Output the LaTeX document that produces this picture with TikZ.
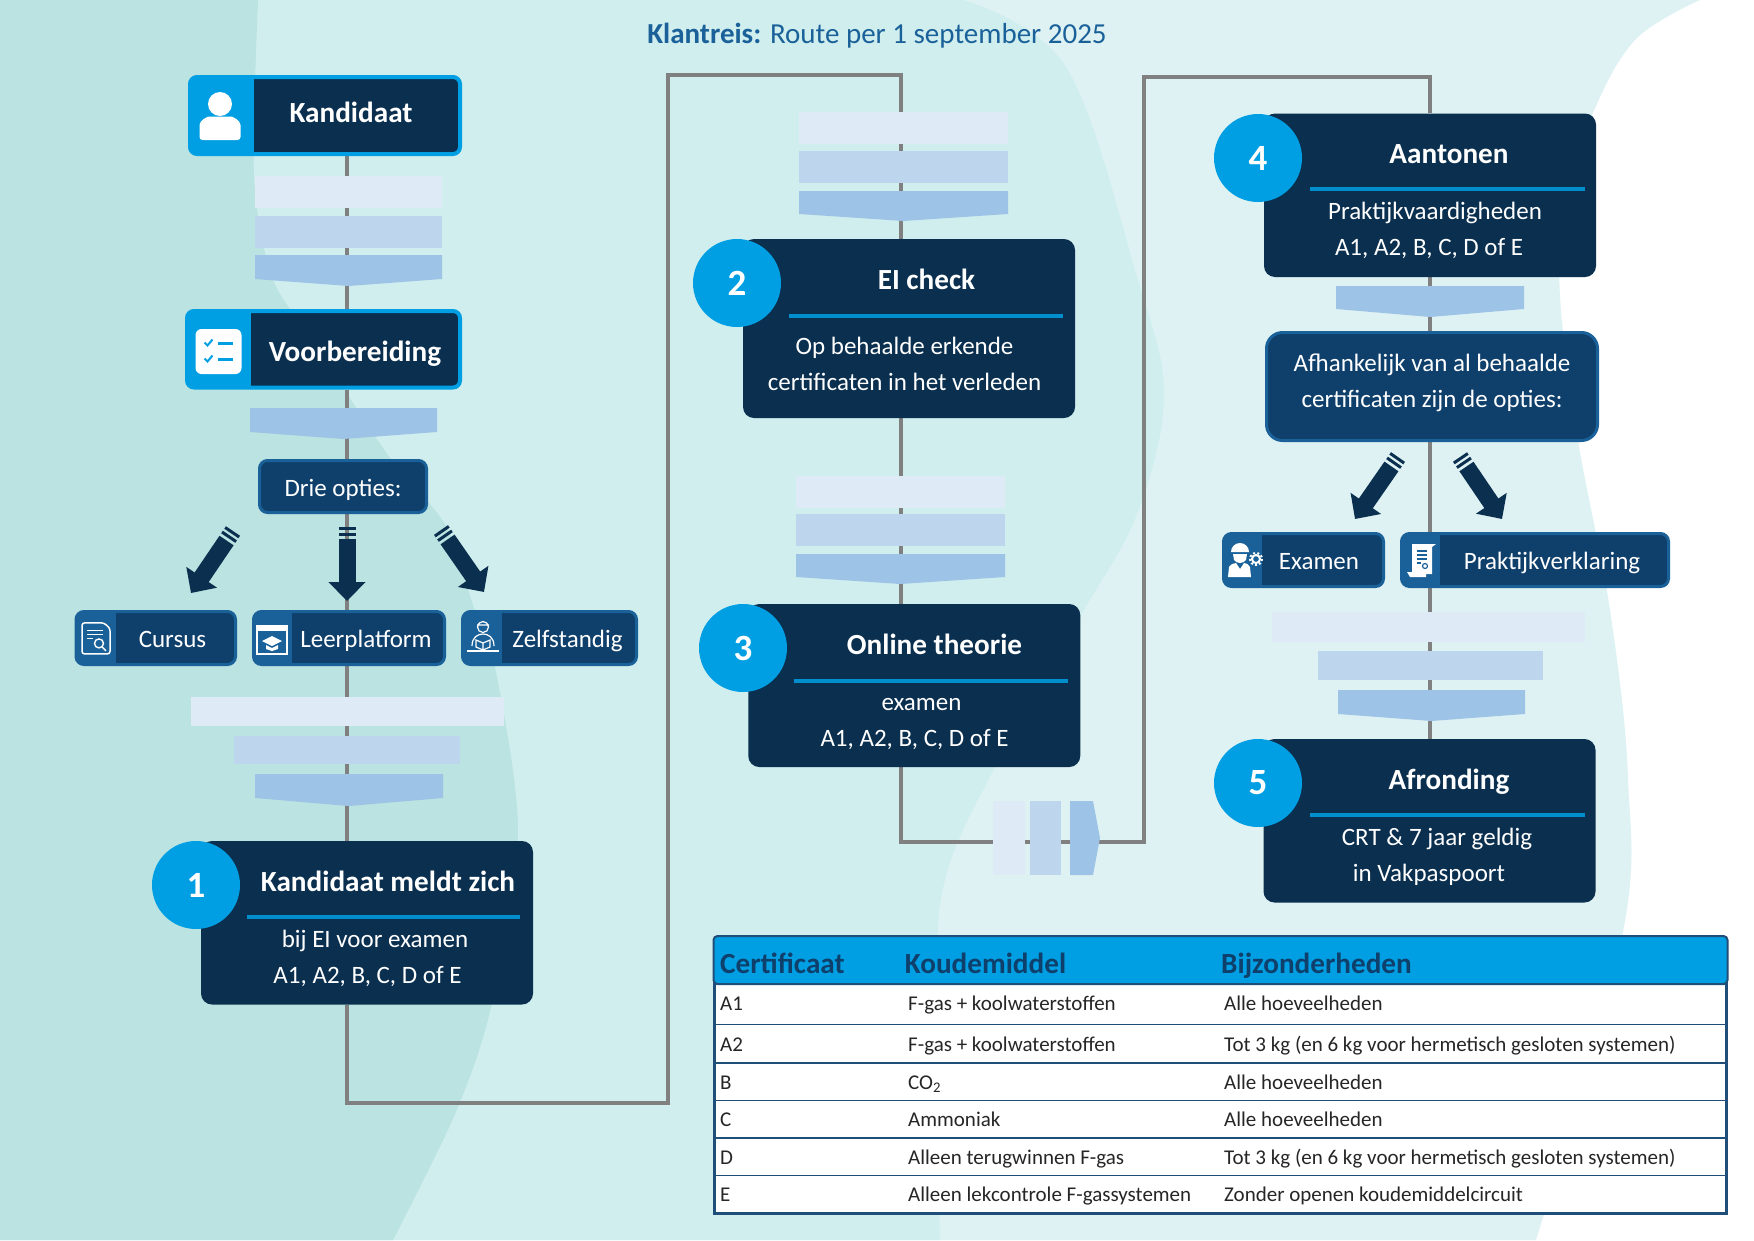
\documentclass[tikz,border=0pt]{standalone}
\usepackage{fontspec}
\setmainfont{Carlito}
\usetikzlibrary{arrows.meta,backgrounds}

\definecolor{bgleft}{HTML}{BAE3E1}
\definecolor{bgmid}{HTML}{D0EEEE}
\definecolor{bgpale}{HTML}{DFF2F3}
\definecolor{navy}{HTML}{0A2F4F}
\definecolor{optfill}{HTML}{0F3F6B}
\definecolor{optedge}{HTML}{1A6199}
\definecolor{skyblue}{HTML}{009FE3}
\definecolor{chevlight}{HTML}{DEEAF6}
\definecolor{chevmid}{HTML}{BDD6EE}
\definecolor{chevdark}{HTML}{9DC3E6}
\definecolor{tableedge}{HTML}{1F4E79}

\tikzset{
  route/.style={draw=black!50,line width=3.5pt},
  optarrow/.style={draw=navy,line width=17pt,dash pattern=on 3pt off 2.5pt on 3pt off 3pt on 300pt,-{Triangle[width=36pt,length=19pt]}},
  headbox/.style={draw=skyblue,fill=skyblue,line width=4pt,rounded corners=7pt,inner sep=0pt,
    path picture={\fill[navy,sharp corners] ([xshift=#1]path picture bounding box.south west) rectangle (path picture bounding box.north east);}},
  optbox/.style={draw=optedge,fill=optedge,line width=3pt,rounded corners=8pt,minimum height=53pt,inner sep=0pt,
    path picture={\fill[optfill,sharp corners] ([xshift=#1]path picture bounding box.south west) rectangle (path picture bounding box.north east);}},
  choicebox/.style={draw=optedge,fill=optfill,line width=3pt,inner sep=0pt},
  stepbox/.style={fill=navy,rounded corners=11pt,minimum width=332pt,inner sep=0pt},
  stepnum/.style={circle,fill=skyblue,minimum size=88pt,inner sep=0pt,text=white,font=\fontsize{37}{37}\selectfont\bfseries},
  steprule/.style={draw=skyblue!90!black,line width=4pt},
  headtxt/.style={text=white,inner sep=0pt,text height=20pt,text depth=6pt,font=\fontsize{29.2}{29.2}\selectfont\bfseries},
  bodytxt/.style={text=white,inner sep=0pt,text height=16pt,text depth=6pt,font=\fontsize{25}{25}\selectfont},
  tabhead/.style={text=optfill,anchor=west,inner sep=0pt,text height=20pt,text depth=6pt,font=\fontsize{29.2}{29.2}\selectfont\bfseries},
  tabtxt/.style={text=black!85,anchor=west,inner sep=0pt,text height=14pt,text depth=5pt,font=\fontsize{21}{21}\selectfont},
  personicon/.pic={
    \fill[white] (0,-18) circle [radius=12];
    \fill[white,rounded corners=3pt] (-20.5,18) -- (-20.5,6) .. controls (-20.5,-2) and (-12,-5.5) .. (-8,-5.5) -- (8,-5.5) .. controls (12,-5.5) and (20.5,-2) .. (20.5,6) -- (20.5,18) -- cycle;
  },
  checkicon/.pic={
    \fill[white,rounded corners=6pt] (-23,-22.5) rectangle (23,22.5);
    \draw[skyblue,line width=2pt] (-14,-9) -- (-11,-6) -- (-6,-12) (-14,7) -- (-11,10) -- (-6,4);
    \draw[skyblue,line width=2.6pt] (-1,-8) -- (14,-8) (-1,8) -- (14,8);
  },
  docicon/.pic={
    \draw[white,line width=1.5pt,rounded corners=2.5pt] (-14,-15.5) -- (8,-15.5) -- (14,-10) -- (14,15.5) -- (-14,15.5) -- cycle;
    \draw[white,line width=1.4pt] (-9,-8) -- (7,-8) (-9,-4) -- (7,-4) (-9,0) -- (-3,0);
    \draw[white,line width=1.4pt] (3,5) circle [radius=4.5] (6,8.5) -- (10,12.5);
  },
  browsericon/.pic={
    \draw[white,line width=1.5pt] (-15,-14) rectangle (15,14);
    \fill[white] (-15,-14) rectangle (15,-9);
    \fill[white] (-10,1) -- (0,-4) -- (10,1) -- (0,6) -- cycle;
    \fill[white] (-6,5) -- (0,8) -- (6,5) -- (6,9) -- (0,11) -- (-6,9) -- cycle;
  },
  readericon/.pic={
    \draw[white,line width=1.2pt] (0,-10) circle [radius=5.5] (-6,-12) -- (6,-12);
    \draw[white,line width=1.2pt] (-11,9) .. controls (-11,0) and (-5,-3) .. (0,-3) .. controls (5,-3) and (11,0) .. (11,9);
    \draw[white,line width=1.2pt] (-7,3) -- (0,6) -- (7,3) -- (7,10) -- (0,13) -- (-7,10) -- cycle (0,6) -- (0,13);
    \draw[white,line width=1.4pt] (-16,14) -- (16,14);
  },
  workericon/.pic={
    \fill[white] (-14,-8) arc [start angle=180,end angle=360,radius=9] -- cycle;
    \fill[white] (-12,-6) -- (2,-6) -- (1,0) .. controls (-2,4) and (-8,4) .. (-11,0) -- cycle;
    \fill[white] (-17,17) -- (-16,7) .. controls (-14,4) and (-11,3) .. (-9,3) -- (-5,9) -- (-1,3) .. controls (1,3) and (4,4) .. (5,7) -- (6,17) -- cycle;
    \draw[white,line width=2pt] (11,-1) circle [radius=4];
    \draw[white,line width=2pt,dash pattern=on 2pt off 2.2pt] (11,-1) circle [radius=6];
  },
  scrollicon/.pic={
    \fill[white] (-10,-16) -- (14,-16) -- (10,-13) -- (10,14) -- (-10,14) -- cycle;
    \fill[white] (-15,12) -- (4,12) -- (4,17) -- (-12,17) -- cycle;
    \draw[optedge,line width=1.6pt] (-5,-9) -- (5,-9) (-5,-5) -- (5,-5) (-5,-1) -- (5,-1) (-5,3) -- (-1,3);
    \draw[optedge,line width=1.2pt] (3,6) circle [radius=2.5];
  }
}

\begin{document}
\begin{tikzpicture}[x=1pt,y=-1pt]
\useasboundingbox (0,0) rectangle (1754,1240);

% background
\begin{scope}[on background layer]
\fill[white] (0,0) rectangle (1754,1240);
\fill[bgpale] (0,0) -- plot[smooth,tension=.6] coordinates {(1700,0) (1635,40) (1592,115) (1565,200) (1560,296) (1578,440) (1610,610) (1628,778) (1622,937) (1536,1240)} -- (0,1240) -- cycle;
\fill[bgmid] (0,0) -- plot[smooth,tension=.6] coordinates {(963,0) (1066,67) (1137,277) (1164,395) (1137,514) (1080,617) (995,767) (945,880) (937,1000) (940,1240)} -- (0,1240) -- cycle;
\fill[bgleft] (0,0) -- plot[smooth,tension=.5] coordinates {(258,0) (254,176) (272,277) (312,340) (388,455) (446,526) (473,605) (495,667) (518,833) (491,1007) (455,1114) (393,1240)} -- (0,1240) -- cycle;
\end{scope}

\node[text=optedge,inner sep=0pt,font=\fontsize{29}{29}\selectfont] (title) at (877,36) {\textbf{Klantreis:} Route per 1 september 2025};

% turning points of the route
\coordinate (xa) at (347,0);
\coordinate (xb) at (901,0);
\coordinate (xc) at (1430,0);
\coordinate (turna) at (347,1103);
\coordinate (turnb) at (668,1103);
\coordinate (turnc) at (668,75);
\coordinate (turnd) at (901,75);
\coordinate (turne) at (901,842);
\coordinate (turnf) at (1144,842);
\coordinate (turng) at (1144,77);
\coordinate (turnh) at (1430,77);

% first column
\node[headbox=64pt,minimum width=270pt,minimum height=77pt] (kand) at (325,115.5) {};
\pic at (220,122) {personicon};
\node[headtxt] (kandtxt) at (351,115.5) {Kandidaat};

\node[headbox=64pt,minimum width=273pt,minimum height=76.5pt] (voorb) at (323.5,349.25) {};
\pic at (218.5,351.5) {checkicon};
\node[headtxt] (voorbtxt) at (355,354.5) {Voorbereiding};

\node[choicebox,rounded corners=8pt,minimum width=167pt,minimum height=52pt] (drie) at (343,486.5) {};
\node[bodytxt] (drietxt) at (343,491) {Drie opties:};

\node[optbox=39.5pt,minimum width=159.5pt] (cursus) at (155.75,638) {};
\pic at (96,638.4) {docicon};
\node[bodytxt] (cursustxt) at (172.5,642) {Cursus};
\node[optbox=38.5pt,minimum width=191pt] (leer) at (349,638) {};
\pic at (272,640) {browsericon};
\node[bodytxt] (leertxt) at (366,642) {Leerplatform};
\node[optbox=39.5pt,minimum width=174pt] (zelf) at (549.5,638) {};
\pic at (483,637) {readericon};
\node[bodytxt] (zelftxt) at (567.5,642) {Zelfstandig};

\node[stepbox,minimum height=163.5pt] (stepa) at (367,922.75) {};
\node[stepnum] (numa) at (196,885) {1};
\node[headtxt] (stepatxt) at (388,884) {Kandidaat meldt zich};
\draw[steprule] (247,917) -- (520,917);
\node[bodytxt] (stepaone) at (375,942) {bij EI voor examen};
\node[bodytxt] (stepatwo) at (367.5,978) {A1, A2, B, C, D of E};

% second column
\node[stepbox,minimum height=179pt] (stepb) at (909,328.5) {};
\node[stepnum] (numb) at (737,283) {2};
\node[headtxt] (stepbtxt) at (926.5,282) {EI check};
\draw[steprule] (788.5,316) -- (1063,316);
\node[bodytxt] (stepbone) at (904.5,349) {Op behaalde erkende};
\node[bodytxt] (stepbtwo) at (904.5,385) {certificaten in het verleden};

\node[stepbox,minimum height=163pt] (stepc) at (914.25,685.5) {};
\node[stepnum] (numc) at (743,648) {3};
\node[headtxt] (stepctxt) at (934.5,647) {Online theorie};
\draw[steprule] (794,681) -- (1068,681);
\node[bodytxt] (stepcone) at (921.5,705) {examen};
\node[bodytxt] (stepctwo) at (914.5,741) {A1, A2, B, C, D of E};

% third column
\node[stepbox,minimum height=163.5pt] (stepd) at (1430,195.25) {};
\node[stepnum] (numd) at (1258,158) {4};
\node[headtxt] (stepdtxt) at (1449,156) {Aantonen};
\draw[steprule] (1310,189.4) -- (1585,189.4);
\node[bodytxt] (stepdone) at (1435,214) {Praktijkvaardigheden};
\node[bodytxt] (stepdtwo) at (1429,250) {A1, A2, B, C, D of E};

\node[choicebox,rounded corners=16pt,minimum width=331pt,minimum height=108pt] (afh) at (1432,386.5) {};
\node[bodytxt] (afhone) at (1432,366) {Afhankelijk van al behaalde};
\node[bodytxt] (afhtwo) at (1432,402) {certificaten zijn de opties:};

\node[optbox=38.5pt,minimum width=160pt] (examen) at (1303.5,560) {};
\pic at (1245,560) {workericon};
\node[bodytxt] (examentxt) at (1319,564) {Examen};
\node[optbox=38.5pt,minimum width=267pt] (prak) at (1535,560) {};
\pic at (1422,560) {scrollicon};
\node[bodytxt] (praktxt) at (1552,564) {Praktijkverklaring};

\node[stepbox,minimum height=163.5pt] (stepe) at (1429.5,820.75) {};
\node[stepnum] (nume) at (1258,783) {5};
\node[headtxt] (stepetxt) at (1449,782) {Afronding};
\draw[steprule] (1310,815) -- (1585,815);
\node[bodytxt] (stepeone) at (1437,840) {CRT \& 7 jaar geldig};
\node[bodytxt] (stepetwo) at (1429,876) {in Vakpaspoort};

% connectors and chevrons lie behind the boxes
\begin{scope}[on background layer]
\draw[route] (kand.south -| xa) -- (voorb.north -| xa);
\draw[route] (voorb.south -| xa) -- (drie.north -| xa);
\draw[route] (drie.south -| xa) -- (leer.north -| xa);
\draw[route] (leer.south -| xa) -- (stepa.north -| xa);
\draw[route] (stepa.south -| xa) -- (turna) -- (turnb) -- (turnc) -- (turnd) -- (stepb.north -| xb);
\draw[route] (stepb.south -| xb) -- (stepc.north -| xb);
\draw[route] (stepc.south -| xb) -- (turne) -- (turnf) -- (turng) -- (turnh) -- (stepd.north -| xc);
\draw[route] (stepd.south -| xc) -- (afh.north -| xc);
\draw[route] (afh.south -| xc) -- (prak.north -| xc);
\draw[route] (prak.south -| xc) -- (stepe.north -| xc);

\foreach \xl/\xr/\ya/\yb in {255/442/176/208,191/504/697/726,799/1008/112/144,796/1005/476/508,1272/1585/612/642}
  \fill[chevlight] (\xl,\ya) rectangle (\xr,\yb);
\foreach \xl/\xr/\ya/\yb in {255/442/216/248,234/460/736/764,799/1008/151/183,796/1005/514/546,1318/1543/651/680}
  \fill[chevmid] (\xl,\ya) rectangle (\xr,\yb);
\foreach \xl/\xr/\ya/\yb/\yc in {255/442/255/279/286,250/437/408/432/439,255/443/774/798/806,799/1008/191/214/221,796/1005/554/577/584,1336/1524/286/309/317,1338/1525/690/714/721}
  \fill[chevdark] (\xl,\ya) rectangle (\xr,\yb) (\xl,\yb) -- ({(\xl+\xr)/2},\yc) -- (\xr,\yb) -- cycle;

\fill[chevlight] (993,801) rectangle (1024.5,875);
\fill[chevmid] (1030,801) rectangle (1061,875);
\fill[chevdark] (1070,801) -- (1093,801) -- (1100,838) -- (1093,875) -- (1070,875) -- cycle;
\end{scope}

% arrows to the options
\coordinate (tailcursus) at (233,531);
\coordinate (tipcursus) at (191,593);
\coordinate (tailleer) at (347,527);
\coordinate (tipleer) at (347,601);
\coordinate (tailzelf) at (441,530);
\coordinate (tipzelf) at (484,592);
\coordinate (tailexamen) at (1398,457);
\coordinate (tipexamen) at (1355,519);
\coordinate (tailprak) at (1460,457);
\coordinate (tipprak) at (1502,519);
\draw[optarrow] (tailcursus) -- (tipcursus);
\draw[optarrow] (tailleer) -- (tipleer);
\draw[optarrow] (tailzelf) -- (tipzelf);
\draw[optarrow] (tailexamen) -- (tipexamen);
\draw[optarrow] (tailprak) -- (tipprak);

% table
\node[fill=white,draw=tableedge,line width=2.5pt,minimum width=1012pt,minimum height=230pt,inner sep=0pt] (tabbody) at (1220.5,1098.5) {};
\node[fill=skyblue,draw=tableedge,line width=2pt,rounded corners=4pt,minimum width=1014pt,minimum height=48pt,inner sep=0pt] (tabtop) at (1220.5,960) {};
\node[tabhead] (headcert) at (720,966) {Certificaat};
\node[tabhead] (headkoud) at (904.6,966) {Koudemiddel};
\node[tabhead] (headbijz) at (1221,966) {Bijzonderheden};

\foreach \yl in {1024.5,1063,1100.5,1138,1175.5}
  \draw[tableedge,line width=1.5pt] (714,\yl) -- (1727,\yl);

\foreach \rowid/\yt/\certname/\koud/\bijz in {
  a/1006/A1/F-gas + koolwaterstoffen/Alle hoeveelheden,
  b/1047/A2/F-gas + koolwaterstoffen/Tot 3 kg (en 6 kg voor hermetisch gesloten systemen),
  c/1085/B/CO\textsubscript{2}/Alle hoeveelheden,
  d/1122/C/Ammoniak/Alle hoeveelheden,
  e/1160/D/Alleen terugwinnen F-gas/Tot 3 kg (en 6 kg voor hermetisch gesloten systemen),
  f/1197/E/Alleen lekcontrole F-gassystemen/Zonder openen koudemiddelcircuit} {
  \node[tabtxt] (cert\rowid) at (720,\yt) {\certname};
  \node[tabtxt] (koud\rowid) at (908,\yt) {\koud};
  \node[tabtxt] (bijz\rowid) at (1224,\yt) {\bijz};
}
\end{tikzpicture}
\end{document}
